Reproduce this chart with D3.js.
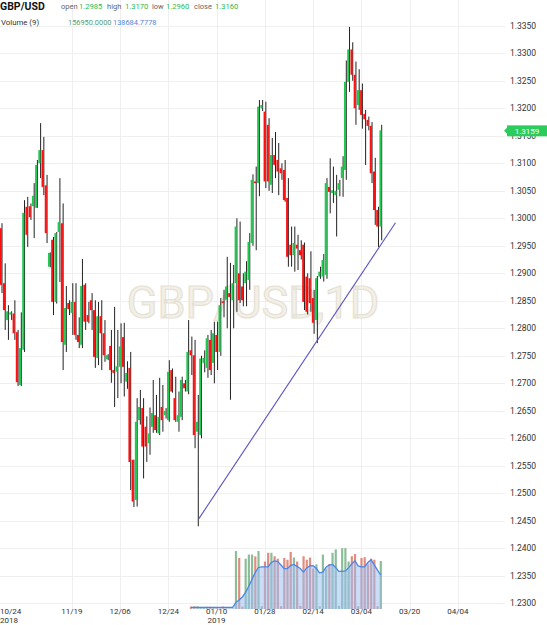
<!DOCTYPE html>
<html>
<head>
<meta charset="utf-8">
<script src="https://cdn.jsdelivr.net/npm/d3@7"></script>
<style>
  body { margin: 0; background: #fff; }
  svg { display: block; font-family: Roboto, "Noto Sans", sans-serif; }
</style>
</head>
<body>
<div class="chart"></div>
<script>
// daily candles, 6-day weeks starting 10/24/2018 (index 0)
var opens = [1.2982,1.2882,1.2815,1.2825,1.2827,1.2793,1.2697,1.2761,1.3021,1.3022,
  1.3022,1.3019,1.3100,1.3124,1.3060,1.2912,1.2961,1.2848,1.2975,1.2991,
  1.2770,1.2846,1.2828,1.2848,1.2788,1.2770,1.2879,1.2824,1.2851,1.2833,
  1.2746,1.2822,1.2791,1.2744,1.2768,1.2724,1.2721,1.2730,1.2784,1.2703,
  1.2728,1.2561,1.2488,1.2633,1.2655,1.2621,1.2591,1.2621,1.2642,1.2609,
  1.2657,1.2642,1.2633,1.2724,1.2673,1.2630,1.2639,1.2700,1.2685,1.2760,
  1.2751,1.2612,1.2606,1.2737,1.2728,1.2779,1.2737,1.2788,1.2757,1.2849,
  1.2852,1.2864,1.2851,1.2882,1.2900,1.2876,1.2882,1.2888,1.2955,1.3067,
  1.3064,1.3200,1.3194,1.3170,1.3061,1.3115,1.3106,1.3091,1.3088,1.3037,
  1.2952,1.2933,1.2952,1.2942,1.2952,1.2894,1.2891,1.2855,1.2815,1.2894,
  1.2894,1.2897,1.3057,1.3046,1.3042,1.3052,1.3073,1.3088,1.3248,1.3307,
  1.3261,1.3206,1.3233,1.3190,1.3179,1.3168,1.3085,1.3015,1.2985];
var highs = [1.2991,1.2918,1.2842,1.2831,1.2851,1.2797,1.2829,1.3033,1.3039,1.3027,
  1.3064,1.3106,1.3173,1.3148,1.3079,1.2938,1.2966,1.2975,1.3073,1.3027,
  1.2877,1.2851,1.2882,1.2882,1.2820,1.2926,1.2882,1.2848,1.2864,1.2851,
  1.2848,1.2851,1.2815,1.2753,1.2797,1.2839,1.2797,1.2809,1.2810,1.2740,
  1.2757,1.2561,1.2673,1.2688,1.2673,1.2640,1.2656,1.2706,1.2679,1.2710,
  1.2697,1.2655,1.2742,1.2727,1.2712,1.2685,1.2712,1.2706,1.2815,1.2785,
  1.2779,1.2679,1.2750,1.2760,1.2788,1.2797,1.2812,1.2812,1.2855,1.2870,
  1.2930,1.2919,1.2915,1.3000,1.2994,1.2900,1.2922,1.2973,1.3080,1.3094,
  1.3215,1.3215,1.3212,1.3182,1.3146,1.3157,1.3137,1.3100,1.3106,1.3073,
  1.2985,1.2985,1.2970,1.2960,1.2956,1.2900,1.2940,1.2870,1.2895,1.2912,
  1.2935,1.3073,1.3109,1.3094,1.3079,1.3070,1.3113,1.3287,1.3348,1.3320,
  1.3285,1.3271,1.3245,1.3197,1.3185,1.3175,1.3110,1.3021,1.3170];
var lows = [1.2864,1.2797,1.2779,1.2815,1.2779,1.2695,1.2695,1.2757,1.2948,1.2997,
  1.2964,1.3019,1.3073,1.3042,1.2955,1.2911,1.2824,1.2845,1.2884,1.2724,
  1.2757,1.2824,1.2788,1.2779,1.2764,1.2764,1.2797,1.2809,1.2797,1.2728,
  1.2733,1.2724,1.2739,1.2742,1.2701,1.2657,1.2673,1.2700,1.2676,1.2690,
  1.2506,1.2475,1.2476,1.2625,1.2527,1.2557,1.2570,1.2610,1.2610,1.2606,
  1.2612,1.2636,1.2630,1.2683,1.2630,1.2612,1.2633,1.2685,1.2680,1.2715,
  1.2582,1.2440,1.2600,1.2720,1.2710,1.2715,1.2700,1.2724,1.2750,1.2820,
  1.2800,1.2670,1.2800,1.2830,1.2846,1.2840,1.2840,1.2870,1.2950,1.2942,
  1.3040,1.3195,1.3055,1.3050,1.3046,1.3073,1.3042,1.3070,1.3030,1.2912,
  1.2912,1.2903,1.2906,1.2925,1.2833,1.2825,1.2830,1.2790,1.2773,1.2890,
  1.2885,1.2890,1.3009,1.3028,1.2967,1.3040,1.3039,1.3070,1.3230,1.3250,
  1.3170,1.3197,1.3163,1.3097,1.3160,1.3064,1.2988,1.2948,1.2960];
var closes = [1.2879,1.2833,1.2831,1.2829,1.2791,1.2702,1.2764,1.3010,1.2970,1.3002,
  1.3041,1.3097,1.3124,1.3057,1.2973,1.2937,1.2848,1.2973,1.2993,1.2775,
  1.2837,1.2835,1.2848,1.2788,1.2775,1.2877,1.2812,1.2812,1.2833,1.2748,
  1.2822,1.2791,1.2751,1.2751,1.2724,1.2719,1.2731,1.2767,1.2730,1.2719,
  1.2557,1.2485,1.2630,1.2657,1.2585,1.2585,1.2609,1.2646,1.2615,1.2639,
  1.2633,1.2650,1.2721,1.2685,1.2633,1.2642,1.2706,1.2691,1.2757,1.2751,
  1.2606,1.2630,1.2745,1.2746,1.2782,1.2724,1.2791,1.2757,1.2842,1.2846,
  1.2876,1.2857,1.2882,1.2985,1.2851,1.2851,1.2903,1.2957,1.3070,1.3064,
  1.3203,1.3206,1.3067,1.3067,1.3115,1.3097,1.3085,1.3082,1.3033,1.2930,
  1.2933,1.2955,1.2945,1.2933,1.2848,1.2830,1.2846,1.2810,1.2891,1.2903,
  1.2924,1.3064,1.3048,1.3051,1.3050,1.3064,1.3094,1.3248,1.3307,1.3261,
  1.3200,1.3233,1.3188,1.3180,1.3168,1.3082,1.3015,1.2985,1.3160];

// volume panel (first bar at index volStart); Sunday bars are the low ones
var volStart = 59;
var volumes = [97500,97800,97800,97000,96500,97200,97200,95500,95500,95000,97500,95000,95000,95000,
  170000,160900,97500,160000,165400,165400,163000,170000,98000,156300,
  167700,167700,163200,160000,98000,160900,158600,168800,161500,156300,
  98500,163200,158600,161500,147100,152600,98000,165400,147100,153000,
  167700,172000,98500,173700,173700,156300,163200,166000,98000,160900,
  162000,152600,160000,158600,98000,156950];
// volume moving average (9)
var volMA = [96500,96500,96500,96500,96500,96500,96500,96500,96500,96500,96500,96500,96500,96500,
  103000,106000,110000,116000,124000,133000,142000,148500,149400,149400,
  149400,155000,157000,156300,151700,147100,147100,151000,152600,150000,
  147100,142500,148000,150500,150800,147100,141600,142500,149000,151500,
  152600,148500,143500,143500,144000,148000,153000,157200,150500,149400,
  149400,155000,158600,152000,145000,138684.7778];

var priceTicks = [1.2300,1.2350,1.2400,1.2450,1.2500,1.2550,1.2600,1.2650,1.2700,1.2750,
  1.2800,1.2850,1.2900,1.2950,1.3000,1.3050,1.3100,1.3150,1.3200,1.3250,1.3300,1.3350];
var dateTickIdx = [0, 22, 37, 52, 67, 82, 97, 112, 127, 142];
var dateTickLabels = ["10/24","11/19","12/06","12/24","01/10","01/28","02/14","03/04","03/20","04/04"];
var yearLabels = {0: "2018", 67: "2019"};

// trend line drawn on the chart: [index, price]
var trendLine = [[61.5, 1.2454], [122.6, 1.2992]];

var lastPrice = 1.3159;
var header = { symbol: "GBP/USD", open: "1.2985", high: "1.3170", low: "1.2960", close: "1.3160",
  volLabel: "Volume (9)", vol: "156950.0000", ma: "138684.7778" };

var W = 547, H = 625;
var green = "#20c84f", red = "#ff1010", wickColor = "#222";

var svg = d3.select(".chart").append("svg")
  .attr("width", W).attr("height", H);

var x = d3.scaleLinear().domain([0, opens.length - 1]).range([1, 380.7]);
var y = d3.scaleLinear().domain([1.23, 1.335]).range([603.3, 25.8]);
var yv = d3.scaleLinear().domain([94300, 174600]).range([609, 547.5]);

// grid
svg.append("g").selectAll("line.h")
  .data(priceTicks).enter().append("line")
  .attr("x1", 0).attr("x2", 505)
  .attr("y1", function (d) { return Math.round(y(d)) + 0.5; })
  .attr("y2", function (d) { return Math.round(y(d)) + 0.5; })
  .attr("stroke", "#efefef");

svg.append("g").selectAll("line.v")
  .data(dateTickIdx.slice(1)).enter().append("line")
  .attr("x1", function (d) { return Math.round(x(d)) + 0.5; })
  .attr("x2", function (d) { return Math.round(x(d)) + 0.5; })
  .attr("y1", 0).attr("y2", 609)
  .attr("stroke", "#efefef");

// watermark
svg.append("text")
  .attr("x", 253).attr("y", 318)
  .attr("text-anchor", "middle")
  .style("font-size", "45px")
  .style("font-family", "Roboto, sans-serif")
  .attr("fill", "#f3f0e8")
  .attr("stroke", "#e6e1d4")
  .attr("stroke-width", 1.2)
  .text("GBP/USD,1D");

// price axis labels
svg.append("g").selectAll("text")
  .data(priceTicks).enter().append("text")
  .attr("x", 510)
  .attr("y", function (d) { return y(d); })
  .attr("dy", "0.35em")
  .style("font-size", "8.5px")
  .attr("fill", "#333")
  .text(function (d) { return d3.format(".4f")(d); });

// date axis labels
var dl = svg.append("g");
dl.selectAll("text.d")
  .data(dateTickIdx).enter().append("text")
  .attr("x", function (d, i) { return i === 0 ? 0 : x(d); })
  .attr("y", 614)
  .attr("text-anchor", function (d, i) { return i === 0 ? "start" : "middle"; })
  .style("font-size", "8px")
  .attr("fill", "#333")
  .text(function (d, i) { return dateTickLabels[i]; });
dl.selectAll("text.y")
  .data(dateTickIdx.filter(function (d) { return yearLabels[d]; })).enter().append("text")
  .attr("x", function (d) { return d === 0 ? 0 : x(d); })
  .attr("y", 623)
  .attr("text-anchor", function (d) { return d === 0 ? "start" : "middle"; })
  .style("font-size", "8px")
  .attr("fill", "#333")
  .text(function (d) { return yearLabels[d]; });

// volume bars
var volData = volumes.map(function (v, k) { return { i: volStart + k, v: v, ma: volMA[k] }; });
svg.append("g").selectAll("rect")
  .data(volData).enter().append("rect")
  .attr("x", function (d) { return x(d.i) - 1; })
  .attr("width", 2.2)
  .attr("y", function (d) { return yv(d.v); })
  .attr("height", function (d) { return Math.max(0, yv.range()[0] - yv(d.v)); })
  .attr("fill", function (d) { return closes[d.i] >= opens[d.i] ? "#4f9a62" : "#d0503c"; })
  .attr("opacity", 0.65);

svg.append("path")
  .datum(volData)
  .attr("d", d3.area()
    .x(function (d) { return x(d.i); })
    .y0(yv.range()[0])
    .y1(function (d) { return yv(d.ma); }))
  .attr("fill", "#9dc0f2")
  .attr("opacity", 0.55);

svg.append("path")
  .datum(volData)
  .attr("d", d3.line()
    .x(function (d) { return x(d.i); })
    .y(function (d) { return yv(d.ma); }))
  .attr("fill", "none")
  .attr("stroke", "#4a86e8")
  .attr("stroke-width", 1.3);

// candles
var candles = opens.map(function (o, i) {
  return { i: i, o: o, h: highs[i], l: lows[i], c: closes[i] };
});
var cg = svg.append("g").selectAll("g")
  .data(candles).enter().append("g");

cg.append("line")
  .attr("x1", function (d) { return x(d.i) + 1; })
  .attr("x2", function (d) { return x(d.i) + 1; })
  .attr("y1", function (d) { return y(d.h); })
  .attr("y2", function (d) { return y(d.l); })
  .attr("stroke", wickColor)
  .attr("stroke-width", 1);

cg.append("rect")
  .attr("x", function (d) { return x(d.i) - 1.3; })
  .attr("width", 2.1)
  .attr("y", function (d) { return y(Math.max(d.o, d.c)); })
  .attr("height", function (d) { return Math.max(1, Math.abs(y(d.o) - y(d.c))); })
  .attr("fill", function (d) { return d.c >= d.o ? green : red; });

// trend line
svg.append("line")
  .attr("x1", x(trendLine[0][0])).attr("y1", y(trendLine[0][1]))
  .attr("x2", x(trendLine[1][0])).attr("y2", y(trendLine[1][1]))
  .attr("stroke", "#5a52c4")
  .attr("stroke-width", 1.1);

// last price tag
var py = y(lastPrice);
svg.append("path")
  .attr("d", "M504," + py + "L507," + (py - 3) + "L507," + (py + 3) + "Z")
  .attr("fill", "#2ccc5c");
svg.append("rect")
  .attr("x", 507).attr("y", py - 5.5)
  .attr("width", 40).attr("height", 11)
  .attr("fill", "#2ccc5c");
svg.append("text")
  .attr("x", 527).attr("y", py)
  .attr("dy", "0.35em")
  .attr("text-anchor", "middle")
  .style("font-size", "8px")
  .attr("fill", "#fff")
  .text(d3.format(".4f")(lastPrice));

// header
var hd = svg.append("g");
hd.append("text").attr("x", 0).attr("y", 10)
  .style("font-size", "10.5px").style("font-weight", "bold").attr("fill", "#111")
  .text(header.symbol);
var fields = [["open", header.open, 61, 79], ["high", header.high, 107, 125],
  ["low", header.low, 152, 166], ["close", header.close, 194, 215]];
fields.forEach(function (f) {
  hd.append("text").attr("x", f[2]).attr("y", 9)
    .style("font-size", "7.5px").attr("fill", "#666").text(f[0]);
  hd.append("text").attr("x", f[3]).attr("y", 9)
    .style("font-size", "7.6px").attr("fill", "#2fb94f").text(f[1]);
});
hd.append("text").attr("x", 1).attr("y", 25)
  .style("font-size", "7.8px").attr("fill", "#333").text(header.volLabel);
hd.append("text").attr("x", 68).attr("y", 25)
  .style("font-size", "7.4px").attr("fill", "#5c9a6b").text(header.vol);
hd.append("text").attr("x", 113).attr("y", 25)
  .style("font-size", "7.4px").attr("fill", "#4f86e0").text(header.ma);
</script>
</body>
</html>
